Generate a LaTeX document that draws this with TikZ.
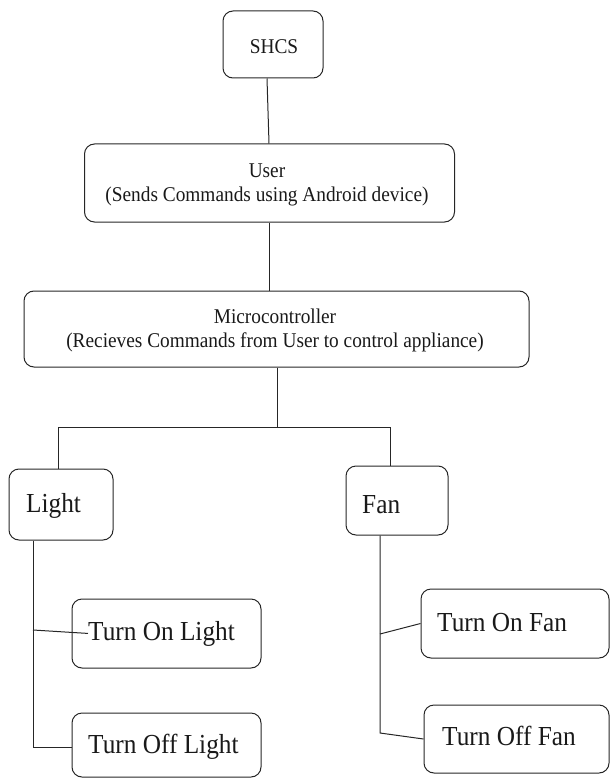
\documentclass[tikz,border=0pt]{standalone}
\usepackage{graphicx}
\usepackage{fontspec}
\setmainfont{Liberation Serif}
\newcommand{\nar}[1]{\scalebox{0.92}[1]{#1}}
\begin{document}
\begin{tikzpicture}[x=1pt,y=-1pt,
  box/.style={draw=black!85, line width=1pt, rounded corners=10pt, inner sep=0pt},
  conn/.style={draw=black!85, line width=1pt},
  small/.style={inner sep=0pt, font=\fontsize{21}{24}\selectfont, text=black!90},
  big/.style={inner sep=0pt, font=\fontsize{27.5}{30}\selectfont, text=black!90}]
\useasboundingbox (0,0) rectangle (610,778);
% boxes
\node[box, minimum width=100, minimum height=67] (shcs) at (273,44.5) {};
\node[box, minimum width=370, minimum height=78] (user) at (269.5,183) {};
\node[box, minimum width=505, minimum height=76] (micro) at (276.5,329) {};
\node[box, minimum width=104, minimum height=71] (light) at (61,504.5) {};
\node[box, minimum width=102, minimum height=69] (fan) at (397,500.5) {};
\node[box, minimum width=189, minimum height=69] (onL) at (166.5,633.5) {};
\node[box, minimum width=189, minimum height=64] (offL) at (166.5,745) {};
\node[box, minimum width=188, minimum height=69] (onF) at (515,623.5) {};
\node[box, minimum width=185, minimum height=68] (offF) at (516.5,739) {};
% texts
\node[small, anchor=base] (shcsT) at (274,54) {\nar{SHCS}};
\node[small, anchor=base] (userT1) at (267,178) {\nar{User}};
\node[small, anchor=base] (userT2) at (267,201) {\nar{(Sends Commands using Android device)}};
\node[small, anchor=base] (microT1) at (275,323) {\nar{Microcontroller}};
\node[small, anchor=base] (microT2) at (275,347) {\nar{(Recieves Commands from User to control appliance)}};
\node[big, anchor=base west] (lightT) at (26,512) {\nar{Light}};
\node[big, anchor=base west] (fanT) at (362,513) {\nar{Fan}};
\node[big, anchor=base west] (onLT) at (88,640) {\nar{Turn On Light}};
\node[big, anchor=base west] (offLT) at (88,753) {\nar{Turn Off Light}};
\node[big, anchor=base west] (onFT) at (437,631) {\nar{Turn On Fan}};
\node[big, anchor=base west] (offFT) at (442,745) {\nar{Turn Off Fan}};
% connectors
\path[conn] ([xshift=-6]shcs.south) -- ([xshift=-0.5]user.north);
\path[conn] ([xshift=0]user.south) -- (user.south |- micro.north);
\coordinate (bar) at (277,427);
\path[conn] ([xshift=0.5]micro.south) -- (bar);
\path[conn] ([xshift=-3]light.north) |- ([xshift=-7]fan.north |- bar) -- ([xshift=-7]fan.north);
% light branch
\coordinate (lb) at ([xshift=-28]light.south |- 0,630);
\path[conn] ([xshift=-28]light.south) |- ([yshift=-2]offL.west);
\path[conn] (lb) -- (onLT.west);
% fan branch
\coordinate (fb) at ([xshift=-17]fan.south |- 0,634);
\coordinate (fc) at ([xshift=-17]fan.south |- 0,733);
\path[conn] ([xshift=-17]fan.south) -- (fc) -- (offF.west);
\path[conn] (fb) -- (onF.west);
\end{tikzpicture}
\end{document}
